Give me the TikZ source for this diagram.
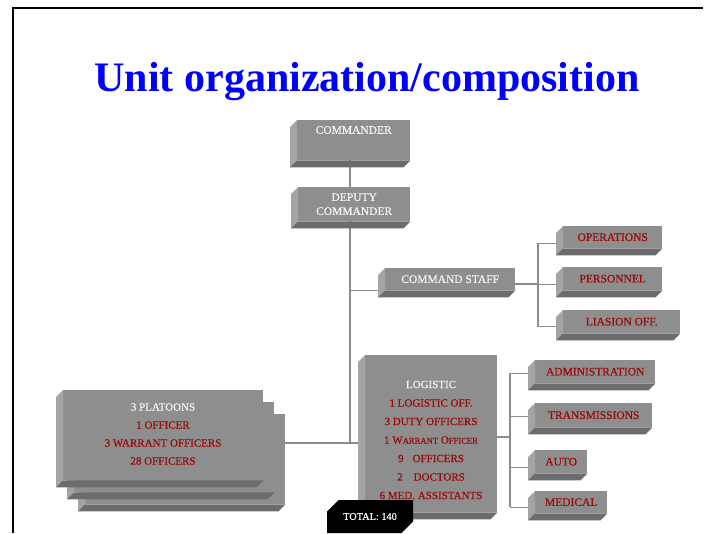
\documentclass[tikz,border=0pt]{standalone}
\usepackage{fontspec}
\setmainfont{Liberation Serif}
\newfontfamily\boxfont[FakeBold=0.6]{Liberation Serif}
\usetikzlibrary{calc,backgrounds,shapes.misc}
\definecolor{frontc}{HTML}{8E8E8E}
\definecolor{sidec}{HTML}{A4A4A4}
\definecolor{botc}{HTML}{6C6C6C}
\definecolor{linec}{HTML}{8C8C8C}
\definecolor{redt}{HTML}{990A0A}
\definecolor{whitet}{HTML}{F4F4F4}
\definecolor{titlec}{HTML}{0000FF}
\tikzset{
  front/.style={fill=frontc, draw=none, inner sep=0pt, anchor=north west,
    text=redt, align=center, font=\boxfont\fontsize{11.5}{14}\selectfont},
  wtxt/.style={text=whitet},
  conn/.style={draw=linec, line width=1.3pt},
  bigtxt/.style={align=center, text=redt, inner sep=0pt,
    font=\boxfont\fontsize{11}{18.5}\selectfont},
  totalbox/.style={chamfered rectangle, chamfered rectangle corners={north west,south east},
    chamfered rectangle xsep=8pt, chamfered rectangle ysep=8pt, fill=black, text=white,
    minimum width=86pt, minimum height=33pt, inner sep=0pt, font=\boxfont\fontsize{10.3}{12}\selectfont}
}
\newcommand\bevelbox[2][7]{%
  \fill[sidec] (#2.north west) -- ++(-#1,#1) -- ($(#2.south west)+(-#1,#1)$) -- (#2.south west) -- cycle;
  \fill[botc] (#2.south west) -- ++(-#1,#1) -- ($(#2.south east)+(-#1,#1)$) -- (#2.south east) -- cycle;
}
\begin{document}
\begin{tikzpicture}[x=1pt,y=-1pt]
\useasboundingbox (0,0) rectangle (707,533);
\draw[line width=1.6pt] (13,533) -- (13,8) -- (703,8);

% title
\node[anchor=base, text=titlec, font=\fontsize{42}{48}\selectfont\bfseries, inner sep=0pt] (title) at (367,91) {Unit organization/composition};

% command chain
\node[front, minimum width=113pt, minimum height=40pt] (cmd) at (297,120) {};
\bevelbox{cmd}
\node[wtxt, inner sep=0pt, font=\boxfont\fontsize{11.5}{14}\selectfont] (cmdt) at ($(cmd.north)+(0,10)$) {COMMANDER};

\node[front, wtxt, minimum width=112pt, minimum height=34pt] (dep) at (298,187) {DEPUTY\\COMMANDER};
\bevelbox{dep}

\node[front, wtxt, minimum width=130pt, minimum height=22pt] (cs) at (385,268) {COMMAND STAFF};
\bevelbox{cs}

\node[front, minimum width=99pt, minimum height=22pt] (ops) at (563,226) {OPERATIONS};
\bevelbox{ops}
\node[front, minimum width=99pt, minimum height=23pt] (per) at (563,267) {PERSONNEL};
\bevelbox{per}
\node[front, minimum width=117pt, minimum height=23pt] (lia) at (563,310) {LIASION OFF.};
\bevelbox{lia}

% logistic
\node[front, minimum width=132pt, minimum height=157pt] (log) at (365,355) {};
\bevelbox{log}
\node[bigtxt] (logt) at (431,440) {\textcolor{whitet}{LOGISTIC}\\1 LOGISTIC OFF.\\3 DUTY OFFICERS\\1 W{\fontsize{8.6}{10}\selectfont ARRANT} O{\fontsize{8.6}{10}\selectfont FFICER}\\9\hspace{9pt}OFFICERS\\2\hspace{11pt}DOCTORS\\6 MED. ASSISTANTS};

\node[front, minimum width=120pt, minimum height=23pt] (adm) at (535,360) {ADMINISTRATION};
\bevelbox{adm}
\node[front, minimum width=117pt, minimum height=24pt] (trn) at (535,403) {TRANSMISSIONS};
\bevelbox{trn}
\node[front, minimum width=52pt, minimum height=23pt] (auto) at (535,450) {AUTO};
\bevelbox{auto}
\node[front, minimum width=72pt, minimum height=22pt] (med) at (535,491) {MEDICAL};
\bevelbox{med}

% platoons
\node[front, minimum width=200pt, minimum height=90pt] (pl3) at (85,414) {};
\bevelbox{pl3}
\node[front, minimum width=200pt, minimum height=90pt] (pl2) at (74,402) {};
\bevelbox{pl2}
\node[front, minimum width=200pt, minimum height=90pt] (pl1) at (63,390) {};
\bevelbox{pl1}
\node[bigtxt, font=\boxfont\fontsize{11}{18}\selectfont] (plt) at (163,434) {\textcolor{whitet}{3 PLATOONS}\\1 OFFICER\\3 WARRANT OFFICERS\\28 OFFICERS};

% total
\node[totalbox] (tot) at (370,516.5) {TOTAL: 140};

% connectors
\coordinate (j) at (350,443);
\coordinate (b1) at (538,284);
\coordinate (b2) at (510,437);
\coordinate (opsl) at ($(ops.west)+(0,6)$);
\coordinate (perl) at ($(per.west)+(0,5.5)$);
\coordinate (lial) at ($(lia.west)+(0,5)$);
\coordinate (adml) at ($(adm.west)+(0,1.5)$);
\coordinate (trnl) at ($(trn.west)+(0,1)$);
\coordinate (autol) at ($(auto.west)+(0,5.5)$);
\coordinate (medl) at ($(med.west)+(0,5)$);
\begin{pgfonlayer}{background}
\draw[conn] (cmd.south -| j) -- (dep.north -| j);
\draw[conn] (dep.south -| j) -- (j);
\draw[conn] (cs.south west -| j) -- (cs.south west);
\draw[conn] (pl3.east |- j) -- (j) -- (log.west |- j);
\draw[conn] (cs.east |- b1) -- (b1);
\draw[conn] (opsl -| b1) -- (lial -| b1);
\draw[conn] (opsl -| b1) -- (opsl);
\draw[conn] (perl -| b1) -- (perl);
\draw[conn] (lial -| b1) -- (lial);
\draw[conn] (log.east |- b2) -- (b2);
\draw[conn] (adml -| b2) -- (medl -| b2);
\draw[conn] (adml -| b2) -- (adml);
\draw[conn] (trnl -| b2) -- (trnl);
\draw[conn] (autol -| b2) -- (autol);
\draw[conn] (medl -| b2) -- (medl);
\end{pgfonlayer}
\end{tikzpicture}
\end{document}
